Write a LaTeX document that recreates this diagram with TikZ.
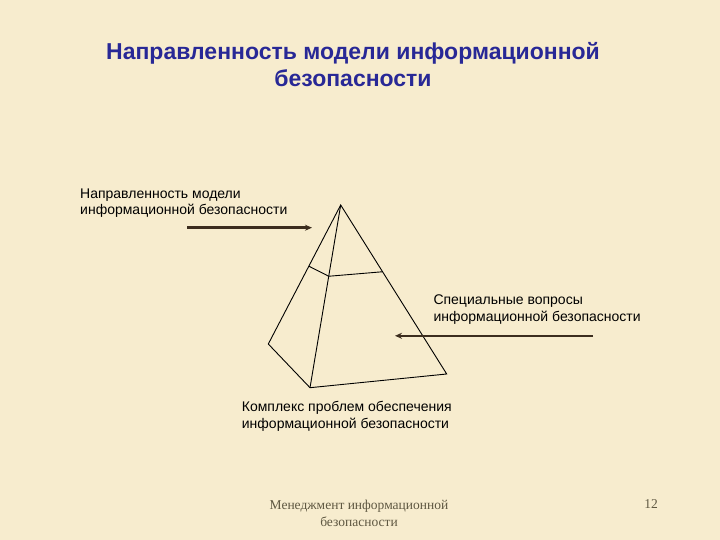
\documentclass[tikz,border=0pt]{standalone}
\usepackage{fontspec}
\setmainfont{Liberation Sans}
\newfontfamily\footfont{Liberation Serif}
\usetikzlibrary{arrows.meta,calc}

\definecolor{paper}{RGB}{247,236,206}
\definecolor{titleblue}{RGB}{40,40,150}
\definecolor{arrowbrown}{RGB}{60,45,30}
\definecolor{footgray}{RGB}{95,88,66}

\tikzset{
  labeltext/.style = {anchor = north west, inner sep = 0pt, align = left,
                      font = \fontsize{14}{16.7}\selectfont},
  pointer/.style   = {-{Stealth[length = 7pt, width = 6pt]}, line width = 2.5pt,
                      draw = arrowbrown},
  edgeline/.style  = {line width = 0.9pt, draw = black},
  footnote/.style  = {inner sep = 0pt, text = footgray,
                      font = \footfont\fontsize{13.5}{17}\selectfont},
}

\begin{document}
\begin{tikzpicture}[x = 1pt, y = -1pt]
        % ------------------------------------------------------------------------
        % Slide
        \fill[paper] (0, 0) rectangle (720, 540);
        \useasboundingbox (0, 0) rectangle (720, 540);

        \node[anchor = north, align = center, inner sep = 0pt, text = titleblue,
              font = \fontsize{23}{27.7}\bfseries\selectfont] at (353, 41.8) (title)
          {Направленность модели информационной\\безопасности};

        % ------------------------------------------------------------------------
        % Pyramid
        \coordinate (apex)  at (340.7, 205);
        \coordinate (baseL) at (268.3, 344);
        \coordinate (baseF) at (310,   387.7);
        \coordinate (baseR) at (446.7, 374);

        \coordinate (sliceL) at ($(apex)!0.44!(baseL)$);
        \coordinate (sliceF) at ($(apex)!0.39!(baseF)$);
        \coordinate (sliceR) at ($(apex)!0.395!(baseR)$);

        \draw[edgeline] (apex) -- (baseL) -- (baseF) -- (baseR) -- cycle;
        \draw[edgeline]
          (apex) edge (baseF)
          (sliceL) edge (sliceF)
          (sliceF) edge (sliceR)
        ;

        % ------------------------------------------------------------------------
        % Labels
        \node[labeltext] at (80, 188.3) (direction)
          {Направленность модели\\информационной безопасности};
        \node[labeltext] at (433.3, 294.8) (special)
          {Специальные вопросы\\информационной безопасности};
        \node[labeltext] at (241.7, 401) (complex)
          {Комплекс проблем обеспечения\\информационной безопасности};

        \coordinate (directionTail) at (187,   227.7);
        \coordinate (directionHead) at (312,   227.7);
        \coordinate (specialTail)   at (593,   335.8);
        \coordinate (specialHead)   at (395,   335.8);

        \draw[pointer] (directionTail) -- (directionHead);
        \draw[pointer] (specialTail) -- (specialHead);

        % ------------------------------------------------------------------------
        % Footer
        \node[footnote, anchor = north, align = center] at (359, 499.5) (footer)
          {Менеджмент информационной\\безопасности};
        \node[footnote, anchor = base east] at (658, 508.3) (page) {12};
      \end{tikzpicture}
\end{document}
